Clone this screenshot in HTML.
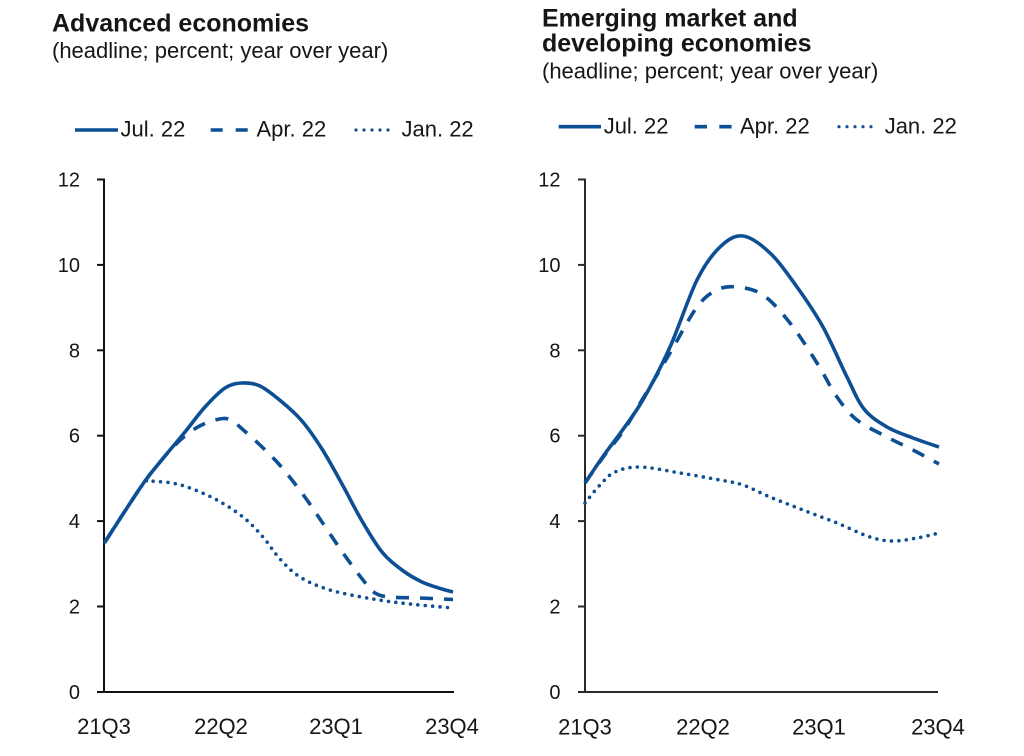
<!DOCTYPE html>
<html><head><meta charset="utf-8"><style>
html,body{margin:0;padding:0;background:#fff;}
svg{display:block;}
text{font-family:"Liberation Sans",sans-serif;fill:#161616;}
.t{font-weight:bold;font-size:25px;}
.s{font-size:22px;}
.lg{font-size:22px;}
.yl{font-size:20px;text-anchor:end;}
.xl{font-size:22px;text-anchor:middle;}
.ser{fill:none;stroke:#0d4f94;stroke-width:3.6;stroke-linejoin:round;}
</style></head><body>
<svg id="c" width="1024" height="756" viewBox="0 0 1024 756" xmlns="http://www.w3.org/2000/svg">
<rect width="1024" height="756" fill="#fff"/>
<!-- Left panel titles -->
<text class="t" x="52" y="31.5">Advanced economies</text>
<text class="s" x="52" y="58">(headline; percent; year over year)</text>
<!-- Left legend -->
<line x1="75" y1="130" x2="118" y2="130" stroke="#0d4f94" stroke-width="3.6"/>
<text class="lg" x="120.5" y="136.7">Jul. 22</text>
<line x1="210.7" y1="130" x2="248.3" y2="130" stroke="#0d4f94" stroke-width="3.6" stroke-dasharray="12 13"/>
<text class="lg" x="256.5" y="136.7">Apr. 22</text>
<line x1="356" y1="130" x2="396" y2="130" stroke="#0d4f94" stroke-width="3.2" stroke-dasharray="0 8" stroke-linecap="round"/>
<text class="lg" x="401.5" y="136.7">Jan. 22</text>
<!-- Left axes -->
<g stroke="#111" stroke-width="2">
<line x1="104" y1="178.5" x2="104" y2="692"/>
<line x1="97" y1="692" x2="454" y2="692"/>
<line x1="97" y1="179.5" x2="104" y2="179.5"/>
<line x1="97" y1="264.9" x2="104" y2="264.9"/>
<line x1="97" y1="350.3" x2="104" y2="350.3"/>
<line x1="97" y1="435.7" x2="104" y2="435.7"/>
<line x1="97" y1="521.1" x2="104" y2="521.1"/>
<line x1="97" y1="606.5" x2="104" y2="606.5"/>
</g>
<text class="yl" x="80" y="186.5">12</text>
<text class="yl" x="80" y="271.9">10</text>
<text class="yl" x="80" y="357.3">8</text>
<text class="yl" x="80" y="442.7">6</text>
<text class="yl" x="80" y="528.1">4</text>
<text class="yl" x="80" y="613.5">2</text>
<text class="yl" x="80" y="699">0</text>
<text class="xl" x="104" y="734">21Q3</text>
<text class="xl" x="221" y="734">22Q2</text>
<text class="xl" x="336" y="734">23Q1</text>
<text class="xl" x="452" y="734">23Q4</text>

<!-- Right panel titles -->
<text class="t" x="542" y="26.5">Emerging market and</text>
<text class="t" x="542" y="51.5">developing economies</text>
<text class="s" x="542" y="78.3">(headline; percent; year over year)</text>
<!-- Right legend -->
<line x1="558.7" y1="126.7" x2="601" y2="126.7" stroke="#0d4f94" stroke-width="3.6"/>
<text class="lg" x="603.7" y="133.3">Jul. 22</text>
<line x1="694.7" y1="126.7" x2="732" y2="126.7" stroke="#0d4f94" stroke-width="3.6" stroke-dasharray="12.3 12.3"/>
<text class="lg" x="740" y="133.3">Apr. 22</text>
<line x1="839" y1="126.7" x2="879" y2="126.7" stroke="#0d4f94" stroke-width="3.2" stroke-dasharray="0 8" stroke-linecap="round"/>
<text class="lg" x="884.7" y="133.3">Jan. 22</text>
<!-- Right axes -->
<g stroke="#2a2a2a" stroke-width="2">
<line x1="585" y1="178.5" x2="585" y2="692"/>
<line x1="578" y1="692" x2="938" y2="692"/>
<line x1="578" y1="179.5" x2="585" y2="179.5"/>
<line x1="578" y1="264.9" x2="585" y2="264.9"/>
<line x1="578" y1="350.3" x2="585" y2="350.3"/>
<line x1="578" y1="435.7" x2="585" y2="435.7"/>
<line x1="578" y1="521.1" x2="585" y2="521.1"/>
<line x1="578" y1="606.5" x2="585" y2="606.5"/>
</g>
<text class="yl" x="560.5" y="186.5">12</text>
<text class="yl" x="560.5" y="271.9">10</text>
<text class="yl" x="560.5" y="357.3">8</text>
<text class="yl" x="560.5" y="442.7">6</text>
<text class="yl" x="560.5" y="528.1">4</text>
<text class="yl" x="560.5" y="613.5">2</text>
<text class="yl" x="560.5" y="699">0</text>
<text class="xl" x="585" y="734.5">21Q3</text>
<text class="xl" x="703" y="734.5">22Q2</text>
<text class="xl" x="819" y="734.5">23Q1</text>
<text class="xl" x="938" y="734.5">23Q4</text>

<!-- Series -->
<path id="lJan" class="ser" stroke-width="3.2" stroke-dasharray="0 7.4" stroke-linecap="round" d="M105,542 L125,511 L145,482 L155,481.5 L172,483 L190,488 L217,500 L243,517 L263,537 L280,559 L300,577 L330,590 L373,599 L410,604 L453,608"/>
<path id="lApr" class="ser" stroke-dasharray="13 11" d="M105,542 L125,511 L145,481 L160,462 L174,446 L190,432 L206,423 L223,418.5 L233,421 L240,427 L260,445 L277,462 L292,480 L307,500 L322,522 L343,553 L363,580 L375,593 L390,597 L420,598 L453,599.5"/>
<path id="lJul" class="ser" d="M105,542 L125,511 L145,481 L165,456 L185,432 L205,407 L225,388 L242,383 L260,386 L282,402 L302,421 L322,449 L342,484 L362,521 L382,552 L402,570 L422,582 L442,589 L453,592"/>

<path id="rJan" class="ser" stroke-width="3.2" stroke-dasharray="0 7.4" stroke-linecap="round" d="M585,503 L600,485 L615,472 L640,467 L680,473 L720,480 L743,485 L770,497 L803,510 L837,523 L870,537 L893,541 L917,538 L939,533"/>
<path id="rApr" class="ser" stroke-dasharray="13 11" d="M585,483 L604,456 L624,430 L642,400 L670,353 L697,307 L717,290 L737,287 L763,295 L790,323 L817,363 L837,397 L857,420 L887,437 L913,450 L939,464"/>
<path id="rJul" class="ser" d="M585,483 L604,455 L624,428 L644,398 L670,347 L697,280 L720,247 L743,236 L770,253 L797,287 L823,327 L847,377 L864,409 L887,427 L913,438 L939,447"/>
</svg>
<script>
(function(){
  var ids=["lJan","lApr","lJul","rJan","rApr","rJul"];
  ids.forEach(function(id){
    var el=document.getElementById(id);
    var d=el.getAttribute("d");
    var nums=d.replace(/[ML]/g," ").trim().split(/[\s,]+/).map(Number);
    var p=[];
    for(var i=0;i<nums.length;i+=2)p.push([nums[i],nums[i+1]]);
    var s="M"+p[0][0]+","+p[0][1];
    for(var i=0;i<p.length-1;i++){
      var p0=p[i-1]||p[i], p1=p[i], p2=p[i+1], p3=p[i+2]||p[i+1];
      var c1x=p1[0]+(p2[0]-p0[0])/6, c1y=p1[1]+(p2[1]-p0[1])/6;
      var c2x=p2[0]-(p3[0]-p1[0])/6, c2y=p2[1]-(p3[1]-p1[1])/6;
      s+=" C"+c1x.toFixed(2)+","+c1y.toFixed(2)+" "+c2x.toFixed(2)+","+c2y.toFixed(2)+" "+p2[0]+","+p2[1];
    }
    el.setAttribute("d",s);
  });
})();
</script>
</body></html>
